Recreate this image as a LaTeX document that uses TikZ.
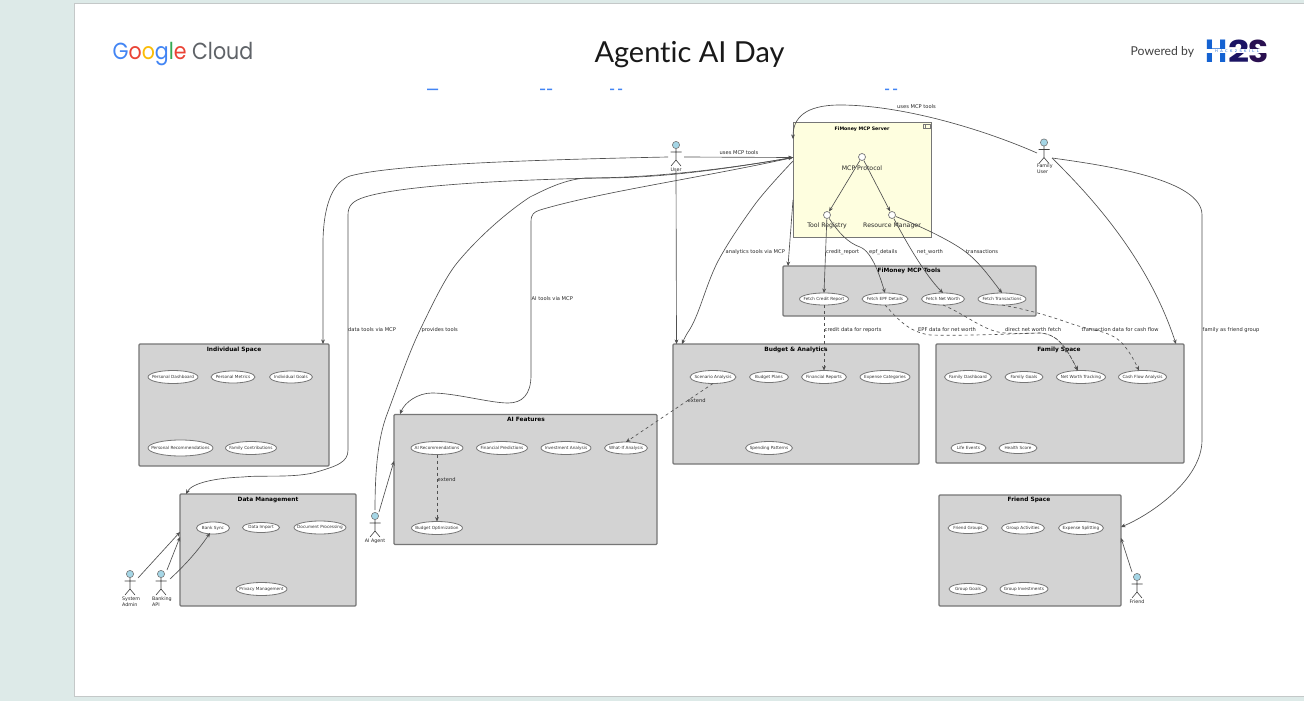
\documentclass[tikz,border=0pt]{standalone}
\usepackage{fontspec}
\usepackage{graphicx}
\setmainfont{DejaVu Sans}
\newfontfamily\logofont{Poppins}
\newfontfamily\titlefont[Ligatures=NoCommon]{Lato}
\usetikzlibrary{shapes.geometric,arrows.meta}
\definecolor{bgteal}{HTML}{DDEAE8}
\definecolor{slideedge}{HTML}{C4C8C8}
\definecolor{boxgrey}{HTML}{D3D3D3}
\definecolor{boxedge}{HTML}{767676}
\definecolor{srvfill}{HTML}{FEFEDF}
\definecolor{actorblue}{HTML}{A5D6E6}
\definecolor{lineink}{HTML}{505050}
\definecolor{gblue}{HTML}{4285F4}
\definecolor{gred}{HTML}{EA4335}
\definecolor{gyellow}{HTML}{FBBC05}
\definecolor{ggreen}{HTML}{34A853}
\definecolor{ggrey}{HTML}{5F6368}
\definecolor{hblue}{HTML}{1462D2}
\definecolor{hnavy}{HTML}{1B1464}
\definecolor{hplum}{HTML}{2A1050}
\newcommand\fsz[1]{\fontsize{#1}{#1}\selectfont}
\tikzset{
  spacebox/.style={draw=boxedge,line width=1.1pt,fill=boxgrey,rounded corners=1pt,inner sep=0pt,outer sep=0pt},
  srvbox/.style={draw=boxedge,line width=1pt,fill=srvfill,inner sep=0pt,outer sep=0pt},
  spacetitle/.style={font=\fsz{5.85}\bfseries,text=black,inner sep=0pt},
  ucshape/.style={ellipse,draw=boxedge,line width=0.8pt,fill=white,inner sep=0pt,outer sep=0pt},
  uctext/.style={font=\fsz{4.2},text=black!80,inner sep=0pt},
  iface/.style={circle,draw=boxedge,line width=0.7pt,fill=white,inner sep=0pt,minimum size=7pt,outer sep=0.6pt},
  ifacetext/.style={font=\fsz{6.2},text=black!85,inner sep=0pt},
  actorbox/.style={inner sep=0pt,outer sep=0pt,minimum width=16pt,minimum height=28pt},
  actortext/.style={font=\fontsize{4.8}{6}\selectfont,text=black!85,inner sep=0pt,align=left},
  edgetext/.style={font=\fsz{5.15},text=black!85,inner sep=0pt,anchor=west},
  conn/.style={draw=lineink,line width=0.65pt,-{Stealth[length=4.5pt,width=3.8pt,fill=black]}},
  dconn/.style={conn,dash pattern=on 3pt off 3pt},
}
\newcommand\ucase[6]{\node[ucshape,minimum width=#4pt,minimum height=#5pt] (#1) at (#2,#3) {};\node[uctext] at (#1.center) {#6};}
\newcommand\actorfig[2]{%
  \draw[draw=black!75,line width=0.6pt] (#1,#2+3.6) -- (#1,#2+15) (#1-5.5,#2+7) -- (#1+5.5,#2+7) (#1-5,#2+21) -- (#1,#2+15) -- (#1+5,#2+21);
  \draw[draw=boxedge,line width=0.6pt,fill=actorblue] (#1,#2) circle (3.6pt);}
\begin{document}
\begin{tikzpicture}[x=1pt,y=-1pt]
\useasboundingbox (0,0) rectangle (1304,701);
\fill[bgteal] (0,0) rectangle (1304,701);
\fill[white,draw=slideedge,line width=0.8pt] (74.5,3.5) rectangle (1310,696.5);

% --- header ---
\node[font=\logofont\fontsize{24.5}{24.5}\selectfont,anchor=base west,inner sep=0pt] (glogo) at (112.5,59.5)
  {\resizebox*{140.5pt}{23.5pt}{\textcolor{gblue}{G}\textcolor{gred}{o}\textcolor{gyellow}{o}\textcolor{gblue}{g}\textcolor{ggreen}{l}\textcolor{gred}{e} \textcolor{ggrey}{Cloud}}};
\node[font=\titlefont\fontsize{32}{32}\selectfont,anchor=base,inner sep=0pt,text=black!90] (daytitle) at (689.5,63)
  {\resizebox{190pt}{!}{Agentic AI Day}};
\node[font=\titlefont\fontsize{12.2}{12.2}\selectfont,anchor=base west,inner sep=0pt,text=black!75] (powered) at (1130.5,56) {Powered by};
\node[font=\logofont\bfseries\fontsize{31}{31}\selectfont,anchor=base west,inner sep=0pt,text=hblue] (hH) at (1205,63) {\resizebox{22pt}{22.5pt}{H}};
\node[font=\logofont\bfseries\fontsize{31}{31}\selectfont,anchor=base west,inner sep=0pt,text=hnavy] (h2) at (1228,63) {\resizebox{21pt}{22.5pt}{2}};
\node[font=\logofont\bfseries\fontsize{31}{31}\selectfont,anchor=base west,inner sep=0pt,text=hplum] (hS) at (1248,63) {\resizebox{20pt}{22.5pt}{S}};
\fill[white] (1206,49.5) rectangle (1267,53.5);
\node[font=\fsz{3.6},text=hblue,inner sep=0pt] (hacktext) at (1237,51.5) {H\hspace{2.4pt}A\hspace{2.4pt}C\hspace{2.4pt}K\hspace{2.4pt}2\hspace{2.4pt}S\hspace{2.4pt}K\hspace{2.4pt}I\hspace{2.4pt}L\hspace{2.4pt}L};
% clipped heading fragments
\fill[gblue] (427,88.5) rectangle (438,90) (540,88.5) rectangle (545,90) (547,88.5) rectangle (552,90)
  (610,88.5) rectangle (614,90) (618,88.5) rectangle (622,90) (885,88.5) rectangle (889,90) (893,88.5) rectangle (897,90);

% --- containers ---
\node[srvbox,minimum width=138pt,minimum height=115pt] (srv) at (862,179.5) {};
\node[spacebox,minimum width=253pt,minimum height=50pt] (tools) at (909.5,291) {};
\node[spacebox,minimum width=190pt,minimum height=122pt] (indiv) at (234,405) {};
\node[spacebox,minimum width=176pt,minimum height=112pt] (datam) at (268,550) {};
\node[spacebox,minimum width=263pt,minimum height=130pt] (aifeat) at (525.5,479.5) {};
\node[spacebox,minimum width=246pt,minimum height=120pt] (budget) at (796,404) {};
\node[spacebox,minimum width=248pt,minimum height=119pt] (family) at (1060,403.5) {};
\node[spacebox,minimum width=182pt,minimum height=111pt] (friendsp) at (1030,550.5) {};

\node[spacetitle,font=\fsz{4.7}\bfseries] (srvt) at (862,129.5) {FiMoney MCP Server};
\node[spacetitle] (toolst) at (909,271) {FiMoney MCP Tools};
\node[spacetitle] (indivt) at (234,349.5) {Individual Space};
\node[spacetitle] (datamt) at (268,499.5) {Data Management};
\node[spacetitle] (aifeatt) at (526,419.5) {AI Features};
\node[spacetitle] (budgett) at (796,349.5) {Budget \& Analytics};
\node[spacetitle] (familyt) at (1059,349.5) {Family Space};
\node[spacetitle] (friendt) at (1029,499.5) {Friend Space};
% component icon
\draw[boxedge,line width=0.5pt,fill=srvfill] (923,124.5) rectangle (930,128);
\draw[boxedge,line width=0.5pt,fill=srvfill] (923,124.5) rectangle (924.8,128);

% --- server interfaces ---
\node[iface] (proto) at (862,157) {};
\node[iface] (toolreg) at (827,215) {};
\node[iface] (resmgr) at (892,215) {};
\node[ifacetext] (protot) at (862,168) {MCP Protocol};
\node[ifacetext] (toolregt) at (827,226) {Tool Registry};
\node[ifacetext] (resmgrt) at (892,226) {Resource Manager};

% --- use cases ---
\ucase{ucCredit}{824}{299}{49}{12}{Fetch Credit Report}
\ucase{ucEpf}{885}{299}{46}{12}{Fetch EPF Details}
\ucase{ucNet}{943}{299}{43}{12}{Fetch Net Worth}
\ucase{ucTrans}{1002}{299}{48}{12}{Fetch Transactions}

\ucase{ucPdash}{173}{377}{50}{13}{Personal Dashboard}
\ucase{ucPmet}{233}{377}{44}{12}{Personal Metrics}
\ucase{ucIgoal}{291}{377}{43}{12}{Individual Goals}
\ucase{ucPrec}{180.5}{448}{65}{16}{Personal Recommendations}
\ucase{ucFcon}{251}{448}{51}{13}{Family Contributions}

\ucase{ucBank}{213}{528}{33}{12}{Bank Sync}
\ucase{ucImp}{261}{527.5}{37}{10}{Data Import}
\ucase{ucDoc}{320}{527.5}{52}{13}{Document Processing}
\ucase{ucPriv}{261.5}{589}{51}{13}{Privacy Management}

\ucase{ucAirec}{437}{448}{52}{13}{AI Recommendations}
\ucase{ucFinp}{502}{448}{51}{13}{Financial Predictions}
\ucase{ucInv}{566}{448}{50}{13}{Investment Analysis}
\ucase{ucWhat}{626}{448}{43}{12}{What-If Analysis}
\ucase{ucOpt}{437}{528}{51}{13}{Budget Optimization}

\ucase{ucScen}{713}{377}{46}{13}{Scenario Analysis}
\ucase{ucPlans}{769}{377}{39}{11}{Budget Plans}
\ucase{ucRep}{824}{377}{45}{13}{Financial Reports}
\ucase{ucExp}{885}{377}{50}{13}{Expense Categories}
\ucase{ucSpend}{769}{448}{47}{13}{Spending Patterns}

\ucase{ucFdash}{968}{377}{47}{13}{Family Dashboard}
\ucase{ucFgoal}{1024}{377}{38}{11}{Family Goals}
\ucase{ucNwt}{1081}{377}{49}{13}{Net Worth Tracking}
\ucase{ucCash}{1142.5}{377}{48}{13}{Cash Flow Analysis}
\ucase{ucLife}{968.5}{448}{35}{11}{Life Events}
\ucase{ucHealth}{1018}{448}{38}{11}{Health Score}

\ucase{ucFgr}{968}{528}{40}{11}{Friend Groups}
\ucase{ucAct}{1023}{528}{43}{12}{Group Activities}
\ucase{ucSplit}{1081}{528}{45}{13}{Expense Splitting}
\ucase{ucGgoal}{968}{589}{38}{11}{Group Goals}
\ucase{ucGinv}{1024}{589}{48}{13}{Group Investments}

% --- actors ---
\node[actorbox] (user) at (676,157) {};
\node[actorbox] (famuser) at (1044,154) {};
\node[actorbox] (sysadm) at (130,586) {};
\node[actorbox] (bankapi) at (161,586) {};
\node[actorbox] (aiagent) at (375,528) {};
\node[actorbox] (friendac) at (1137,589) {};
\actorfig{676}{145}
\actorfig{1044}{142.5}
\actorfig{130}{574}
\actorfig{161}{574}
\actorfig{375}{516}
\actorfig{1137}{577}
\node[actortext] (usert) at (676,170) {User};
\node[actortext,anchor=north west] (famusert) at (1037,164) {Family\\User};
\node[actortext,anchor=north west] (sysadmt) at (122,596.5) {System\\Admin};
\node[actortext,anchor=north west] (bankapit) at (152,596.5) {Banking\\API};
\node[actortext] (aiagentt) at (375,541) {AI Agent};
\node[actortext] (friendact) at (1137,602) {Friend};

% --- ports on container borders ---
\coordinate (pSrvL) at (793,157.5);
\coordinate (pSrvT) at (793,139);
\coordinate (pSrvB) at (793,161);
\coordinate (pSrvD) at (793,200);
\coordinate (pToolsT) at (788,266);
\coordinate (pIndT) at (323,344);
\coordinate (pDataT) at (186,494);
\coordinate (pDataA) at (180,532);
\coordinate (pDataB) at (180,537);
\coordinate (pBankI) at (210,533);
\coordinate (pAiT) at (400,414);
\coordinate (pAiL) at (394,461);
\coordinate (pBudU) at (676.5,344);
\coordinate (pBudS) at (682,344);
\coordinate (pFamT) at (1176,344);
\coordinate (pFrA) at (1121,527);
\coordinate (pFrB) at (1121,538);
\coordinate (sFriend) at (1132,572);
\coordinate (sAdmin) at (138,578);
\coordinate (sBankA) at (167,570);
\coordinate (sBankB) at (170,579);
\coordinate (sAgentA) at (375,510);
\coordinate (sAgentB) at (379,512);
\coordinate (sFamU) at (1037,153);
\coordinate (sFamA) at (1052,158);
\coordinate (sFamB) at (1052,158);

% --- connectors ---
\draw[conn] (user.east) -- (pSrvL);
\draw[conn] (user.west) .. controls (520,160) and (390,165) .. (350,176) .. controls (335,181) and (324,200) .. (323,240) -- (pIndT);
\draw[conn] (pSrvL) .. controls (720,170) and (660,178) .. (600,178) .. controls (500,180) and (400,186) .. (365,197) .. controls (352,201) and (348,206) .. (348,215) -- (348,450) .. controls (348,462) and (338,466) .. (313,473) .. controls (290,478) and (260,475) .. (243,477) .. controls (215,478) and (192,483) .. (pDataT);
\draw[conn] (sAgentA) .. controls (375,470) and (378,440) .. (386,417) .. controls (398,385) and (408,355) .. (420,330) .. controls (433,303) and (445,278) .. (457,263) .. controls (480,235) and (510,210) .. (530,197) .. controls (550,187) and (565,180) .. (585,178) .. controls (650,178) and (720,170) .. (pSrvL);
\draw[conn] (pSrvL) .. controls (700,178) and (600,192) .. (540,210) .. controls (534,212) and (531,214) .. (531,222) -- (531,375) .. controls (531,395) and (522,403) .. (508,403) .. controls (490,403) and (455,393) .. (432,393) .. controls (418,393) and (405,402) .. (pAiT);
\draw[conn] (sAgentB) -- (pAiL);
\draw[conn] (sFamU) .. controls (980,128) and (900,105) .. (840,105) .. controls (805,105) and (793,118) .. (pSrvT);
\draw[conn] (sFamA) .. controls (1100,205) and (1150,265) .. (pFamT);
\draw[conn] (sFamB) .. controls (1110,166) and (1202,180) .. (1202,215) -- (1202,440) .. controls (1202,480) and (1150,515) .. (pFrA);
\draw[conn] (sFriend) -- (pFrB);
\draw[conn] (sAdmin) -- (pDataA);
\draw[conn] (sBankA) -- (pDataB);
\draw[conn] (sBankB) .. controls (185,565) and (197,552) .. (pBankI);
\draw[conn] (user.south) -- (pBudU);
\draw[conn] (pSrvB) .. controls (775,180) and (760,197) .. (753,207) .. controls (735,232) and (725,248) .. (717,263) .. controls (705,288) and (700,312) .. (690,329) .. controls (686,335) and (684,339) .. (pBudS);
\draw[conn] (pSrvD) -- (pToolsT);
\draw[conn] (proto) -- (toolreg);
\draw[conn] (proto) -- (resmgr);
\draw[conn] (toolreg) -- (ucCredit.north);
\draw[conn] (toolreg) .. controls (838,232) and (848,243) .. (860,247) .. controls (873,252) and (881,280) .. (ucEpf.north);
\draw[conn] (resmgr) .. controls (905,240) and (925,275) .. (ucNet.north);
\draw[conn] (resmgr) .. controls (925,228) and (955,243) .. (967,253) .. controls (980,263) and (992,280) .. (ucTrans.north);
\draw[dconn] (ucCredit.south) -- (ucRep.north);
\draw[dconn] (ucEpf.south) .. controls (897,318) and (908,332) .. (930,335) .. controls (960,336) and (1010,334) .. (1040,333) .. controls (1060,334) and (1068,352) .. (1078,370.5);
\draw[dconn] (ucNet.south) .. controls (965,314) and (985,332) .. (1005,333) .. controls (1020,334) and (1030,333) .. (1040,333) .. controls (1060,334) and (1068,352) .. (1078,370.5);
\draw[dconn] (ucTrans.south) .. controls (1035,311) and (1055,318) .. (1075,325) .. controls (1095,331) and (1110,331) .. (1122,343) .. controls (1130,352) and (1135,362) .. (1139,370.5);
\draw[dconn] (ucAirec.south) -- (ucOpt.north);
\draw[dconn] (ucScen.south) -- (ucWhat.north);

% --- connector labels ---
\node[edgetext] (l01) at (719.5,152.5) {uses MCP tools};
\node[edgetext] (l02) at (897,107) {uses MCP tools};
\node[edgetext] (l03) at (348,330) {data tools via MCP};
\node[edgetext] (l04) at (421.5,330) {provides tools};
\node[edgetext] (l05) at (531.5,299) {AI tools via MCP};
\node[edgetext] (l06) at (725.5,252) {analytics tools via MCP};
\node[edgetext] (l07) at (826,252) {credit\_report};
\node[edgetext] (l08) at (869,252) {epf\_details};
\node[edgetext] (l09) at (917,252) {net\_worth};
\node[edgetext] (l10) at (966,252) {transactions};
\node[edgetext] (l11) at (824.5,330) {credit data for reports};
\node[edgetext] (l12) at (918,330) {EPF data for net worth};
\node[edgetext] (l13) at (1005,330) {direct net worth fetch};
\node[edgetext] (l14) at (1081.5,330) {transaction data for cash flow};
\node[edgetext] (l15) at (1202.5,330) {family as friend group};
\node[edgetext] (l16) at (437.5,480) {extend};
\node[edgetext] (l17) at (687.5,400.5) {extend};
\end{tikzpicture}
\end{document}
